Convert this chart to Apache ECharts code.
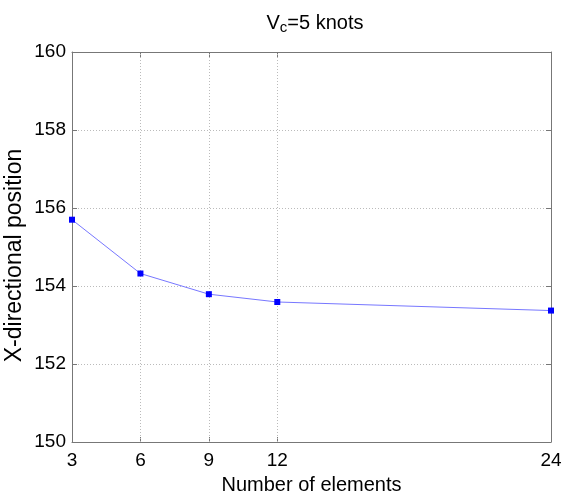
<!DOCTYPE html>
<html><head><meta charset="utf-8">
<script src="https://cdn.jsdelivr.net/npm/echarts@6/dist/echarts.min.js"></script>
<style>html,body{margin:0;padding:0;background:#fff}#c{width:562px;height:494px}</style>
</head><body><div id="c"></div>
<script>
const elements = [3, 6, 9, 12, 24];
const positions = [155.7, 154.32, 153.79, 153.59, 153.37];
const xTicks = [3, 6, 9, 12, 24];
const yTicks = [150, 152, 154, 156, 158, 160];

const chart = echarts.init(document.getElementById('c'), null, {renderer: 'canvas'});
const font = 'Liberation Sans, Arial, sans-serif';
const axisCol = '#777';
const gridLine = {show: true, lineStyle: {color: '#bbb', type: [1, 2], width: 1}};
chart.setOption({
  animation: false,
  backgroundColor: '#fff',
  title: {
    text: '{v|V}{s|c}{v|=5 knots}',
    left: 310, top: 8, textAlign: 'center',
    textStyle: {rich: {
      v: {fontFamily: font, fontSize: 20, lineHeight: 22, color: '#000', fontWeight: 'normal', verticalAlign: 'top'},
      s: {fontFamily: font, fontSize: 15, lineHeight: 16, color: '#000', fontWeight: 'normal', padding: [20, 0, 0, 0], verticalAlign: 'bottom'}
    }}
  },
  grid: {left: 72, right: 11, top: 52, bottom: 52, show: false, containLabel: false, outerBoundsMode: 'none'},
  xAxis: [{
    type: 'value', min: 3, max: 24, position: 'bottom',
    name: 'Number of elements', nameLocation: 'middle', nameGap: 33,
    nameTextStyle: {fontFamily: font, fontSize: 20, color: '#000'},
    axisLine: {show: true, onZero: false, lineStyle: {color: axisCol}},
    axisTick: {show: true, inside: true, length: 5, lineStyle: {color: axisCol}, customValues: xTicks},
    axisLabel: {fontFamily: font, fontSize: 19, color: '#000', margin: 9, customValues: xTicks, showMinLabel: true, showMaxLabel: true},
    splitLine: {show: false}
  }, {
    type: 'value', min: 3, max: 24, position: 'top',
    axisLine: {show: true, onZero: false, lineStyle: {color: axisCol}},
    axisTick: {show: true, inside: true, length: 5, lineStyle: {color: axisCol}, customValues: xTicks},
    axisLabel: {show: false}, splitLine: {show: false}
  }],
  yAxis: [{
    type: 'value', min: 150, max: 160, interval: 2, position: 'left',
    name: 'X-directional position', nameLocation: 'middle', nameGap: 46, nameMoveOverlap: false,
    nameTextStyle: {fontFamily: font, fontSize: 23, color: '#000', padding: [0, 17, 0, 0]},
    axisLine: {show: true, onZero: false, lineStyle: {color: axisCol}},
    axisTick: {show: true, inside: true, length: 5, lineStyle: {color: axisCol}},
    axisLabel: {fontFamily: font, fontSize: 19, color: '#000', margin: 6, formatter: v => yTicks.includes(v) ? String(v) : ''},
    splitLine: gridLine
  }, {
    type: 'value', min: 150, max: 160, interval: 2, position: 'right',
    axisLine: {show: true, onZero: false, lineStyle: {color: axisCol}},
    axisTick: {show: true, inside: true, length: 5, lineStyle: {color: axisCol}},
    axisLabel: {show: false}, splitLine: {show: false}
  }],
  series: [{
    type: 'line',
    xAxisIndex: 0, yAxisIndex: 0,
    data: elements.map((x, i) => [x, positions[i]]),
    symbol: 'rect', symbolSize: 6,
    itemStyle: {color: '#0000ff'},
    lineStyle: {color: '#7777ff', width: 1},
    markLine: {
      silent: true, symbol: 'none', label: {show: false},
      lineStyle: {color: '#bbb', type: [1, 2], width: 1},
      data: xTicks.slice(1, -1).map(v => ({xAxis: v}))
    },
    z: 5
  }]
});
</script></body></html>
